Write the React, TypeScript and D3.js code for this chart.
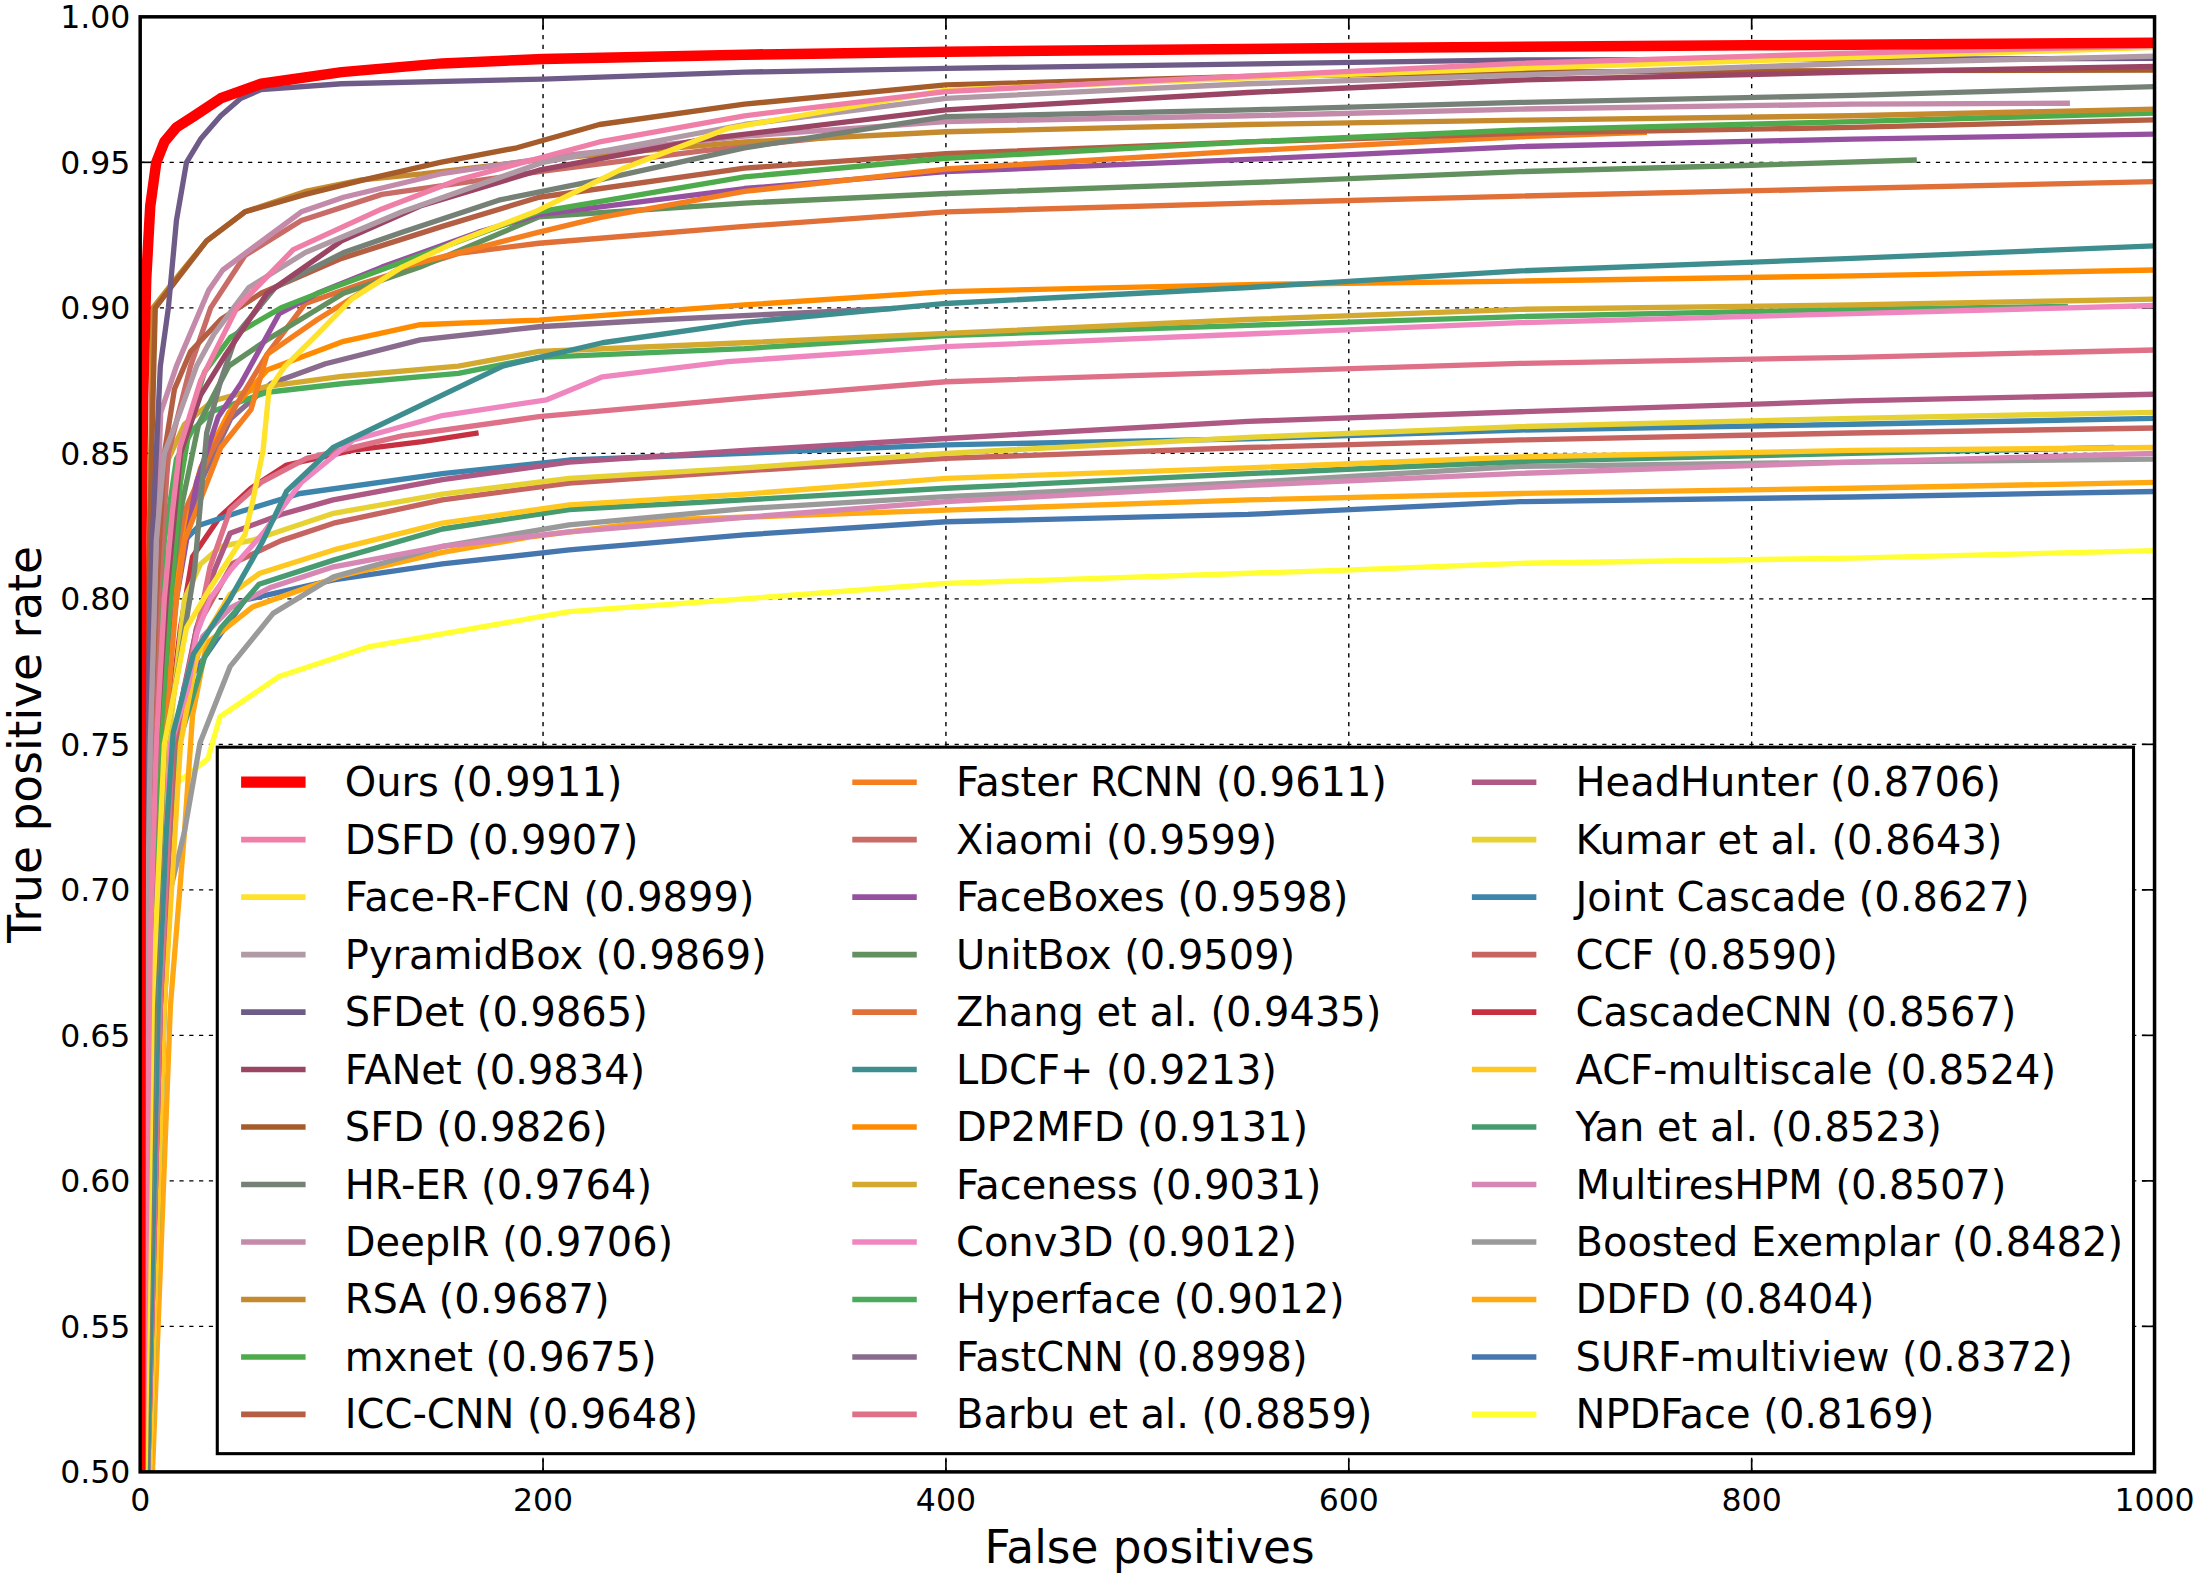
import * as d3 from "d3";

type Pt = [number, number];

// [false positives, true positive rate]
const ours: Pt[] = [[0, 0.48], [0.3, 0.75], [0.6, 0.82], [1.5, 0.87], [3, 0.91], [5, 0.935], [8, 0.95], [12, 0.957], [18, 0.962], [27, 0.966], [40, 0.972], [60, 0.977], [100, 0.981], [150, 0.984], [200, 0.9855], [300, 0.987], [400, 0.988], [600, 0.9893], [800, 0.9902], [1000, 0.9911]];
const dsfd: Pt[] = [[1, 0.48], [5, 0.68], [8, 0.75], [12, 0.8], [16, 0.83], [19.7, 0.852], [30, 0.875], [48, 0.9], [76, 0.92], [120, 0.934], [158, 0.944], [228, 0.957], [300, 0.966], [400, 0.9743], [500, 0.978], [685, 0.984], [850, 0.9875], [1000, 0.99]];
const faceRFcn: Pt[] = [[2, 0.48], [6, 0.66], [12, 0.75], [23, 0.79], [35, 0.804], [52, 0.822], [56, 0.834], [61, 0.851], [64, 0.872], [72, 0.88], [88, 0.891], [105, 0.903], [130, 0.914], [158, 0.923], [196, 0.933], [240, 0.948], [292, 0.9617], [400, 0.9748], [550, 0.979], [685, 0.9823], [850, 0.986], [1000, 0.9895]];
const pyramidBox: Pt[] = [[1, 0.48], [3, 0.66], [5, 0.75], [8, 0.82], [12, 0.85], [19.7, 0.864], [28, 0.88], [36.7, 0.891], [54, 0.907], [82, 0.919], [130, 0.933], [200, 0.95], [300, 0.963], [400, 0.972], [550, 0.977], [685, 0.98], [850, 0.984], [1000, 0.9865]];
const sfdet: Pt[] = [[1, 0.48], [3, 0.75], [6, 0.82], [8, 0.85], [10, 0.88], [14, 0.9], [18, 0.93], [23, 0.95], [30, 0.958], [40, 0.966], [50, 0.972], [60, 0.975], [100, 0.977], [200, 0.9786], [300, 0.981], [400, 0.9823], [685, 0.9852], [1000, 0.9857]];
const fanet: Pt[] = [[1, 0.48], [4, 0.66], [8, 0.75], [13, 0.8], [20, 0.85], [30, 0.87], [42.5, 0.884], [63, 0.905], [100, 0.923], [139, 0.935], [198, 0.9473], [280, 0.958], [400, 0.968], [550, 0.974], [685, 0.9783], [850, 0.981], [1000, 0.983]];
const sfd: Pt[] = [[0.5, 0.48], [1.5, 0.66], [3, 0.75], [4, 0.8], [6.3, 0.867], [7.5, 0.9], [19.6, 0.911], [33, 0.923], [52, 0.933], [82, 0.939], [111, 0.944], [149, 0.95], [187, 0.955], [228, 0.963], [300, 0.97], [400, 0.9766], [550, 0.9795], [685, 0.981], [850, 0.9815], [1000, 0.9817]];
const hrEr: Pt[] = [[2, 0.48], [7, 0.66], [12, 0.75], [20, 0.78], [27, 0.81], [33, 0.857], [40, 0.875], [48, 0.891], [67, 0.907], [101, 0.919], [130, 0.926], [178, 0.937], [228, 0.944], [300, 0.955], [400, 0.9657], [550, 0.968], [685, 0.9706], [850, 0.973], [1000, 0.976]];
const deepIr: Pt[] = [[1, 0.48], [3, 0.66], [5, 0.75], [7, 0.8], [10.2, 0.864], [18, 0.88], [34, 0.906], [41, 0.913], [80, 0.933], [101, 0.938], [149, 0.946], [206, 0.952], [300, 0.959], [400, 0.964], [550, 0.966], [685, 0.9683], [850, 0.97], [958, 0.9703]];
const rsa: Pt[] = [[0.5, 0.48], [1.5, 0.66], [3, 0.75], [4, 0.8], [5.5, 0.86], [6.3, 0.9], [20, 0.912], [33, 0.923], [52, 0.933], [82, 0.94], [110, 0.944], [140, 0.946], [200, 0.951], [300, 0.957], [400, 0.9605], [550, 0.963], [685, 0.9645], [850, 0.966], [1000, 0.9683]];
const mxnet: Pt[] = [[2, 0.48], [6, 0.66], [10, 0.75], [15, 0.8], [20, 0.84], [26, 0.865], [32, 0.878], [45, 0.89], [70, 0.9], [92, 0.906], [139, 0.918], [198, 0.933], [300, 0.945], [400, 0.9514], [550, 0.957], [685, 0.9611], [850, 0.964], [1000, 0.9669]];
const iccCnn: Pt[] = [[1, 0.48], [3, 0.66], [5, 0.75], [8, 0.8], [12, 0.85], [17, 0.872], [25, 0.885], [40, 0.896], [60, 0.905], [100, 0.917], [150, 0.928], [198, 0.938], [300, 0.948], [400, 0.953], [550, 0.957], [685, 0.96], [850, 0.962], [1000, 0.9646]];
const fasterRcnn: Pt[] = [[2, 0.48], [7, 0.66], [12, 0.75], [18, 0.8], [22, 0.82], [40, 0.852], [55, 0.865], [63, 0.884], [88, 0.896], [130, 0.914], [198, 0.926], [228, 0.931], [300, 0.94], [400, 0.9477], [550, 0.954], [685, 0.9588], [748, 0.9603]];
const xiaomi: Pt[] = [[1, 0.48], [3.5, 0.66], [6, 0.75], [9, 0.8], [14, 0.85], [25, 0.88], [35, 0.9], [52, 0.918], [80, 0.93], [120, 0.939], [200, 0.947], [280, 0.954], [352, 0.9594]];
const faceBoxes: Pt[] = [[2, 0.48], [6, 0.66], [10, 0.75], [18, 0.8], [28, 0.84], [38.7, 0.8625], [50, 0.874], [69, 0.898], [88, 0.905], [120, 0.914], [168, 0.926], [198, 0.932], [300, 0.941], [400, 0.9468], [550, 0.951], [685, 0.9554], [850, 0.958], [1000, 0.9597]];
const unitBox: Pt[] = [[2, 0.48], [5, 0.66], [9, 0.75], [15, 0.8], [20, 0.83], [29, 0.86], [44, 0.88], [63, 0.889], [101, 0.905], [139, 0.914], [198, 0.9313], [300, 0.936], [400, 0.9393], [550, 0.943], [685, 0.9468], [800, 0.949], [882, 0.9508]];
const zhang: Pt[] = [[1, 0.48], [4, 0.66], [8, 0.75], [14, 0.8], [22, 0.83], [35, 0.85], [48, 0.867], [63, 0.884], [82, 0.9015], [111, 0.9085], [158, 0.9187], [198, 0.9222], [300, 0.928], [400, 0.933], [550, 0.936], [685, 0.9384], [850, 0.941], [1000, 0.9434]];
const ldcf: Pt[] = [[3, 0.48], [9, 0.66], [13, 0.72], [16.4, 0.754], [26.4, 0.781], [44.6, 0.8], [61, 0.82], [72.7, 0.837], [95.8, 0.852], [144, 0.868], [180, 0.88], [229.5, 0.888], [300, 0.895], [400, 0.9015], [550, 0.907], [685, 0.9127], [850, 0.917], [1000, 0.9213]];
const dp2mfd: Pt[] = [[1, 0.48], [4, 0.66], [8, 0.75], [14, 0.79], [20, 0.82], [30, 0.845], [44, 0.864], [63, 0.8786], [101, 0.8885], [139, 0.8942], [198, 0.8958], [300, 0.901], [400, 0.9056], [550, 0.908], [685, 0.9092], [850, 0.911], [1000, 0.913]];
const faceness: Pt[] = [[0.5, 0.48], [2, 0.66], [4, 0.75], [8, 0.82], [14, 0.848], [22, 0.86], [36, 0.868], [63, 0.873], [101, 0.8765], [158, 0.88], [198, 0.885], [300, 0.888], [400, 0.8912], [550, 0.896], [685, 0.8995], [850, 0.901], [1000, 0.903]];
const conv3d: Pt[] = [[3, 0.48], [9, 0.66], [15, 0.75], [24, 0.77], [28, 0.788], [34.7, 0.8], [45, 0.81], [61, 0.8225], [80, 0.84], [105.8, 0.8546], [150, 0.863], [201.8, 0.8684], [229.5, 0.8763], [291.6, 0.8815], [400, 0.8867], [550, 0.891], [685, 0.8949], [850, 0.898], [1000, 0.9008]];
const hyperface: Pt[] = [[1, 0.48], [4, 0.66], [7, 0.75], [12, 0.82], [18, 0.848], [26, 0.858], [36, 0.8645], [63, 0.871], [101, 0.874], [158, 0.8775], [198, 0.883], [300, 0.886], [400, 0.8905], [550, 0.894], [685, 0.897], [850, 0.8995], [957, 0.9005]];
const fastCnn: Pt[] = [[2, 0.48], [6, 0.66], [10, 0.75], [18, 0.81], [30, 0.84], [45, 0.862], [65, 0.874], [92, 0.8808], [139, 0.889], [198, 0.8935], [260, 0.896], [320, 0.898], [375, 0.8998]];
const barbu: Pt[] = [[3, 0.48], [10, 0.66], [16, 0.75], [28, 0.788], [34.7, 0.811], [44.6, 0.8305], [60, 0.84], [82.6, 0.8483], [130, 0.856], [198, 0.8626], [300, 0.869], [400, 0.8746], [550, 0.878], [685, 0.8809], [850, 0.883], [1000, 0.8855]];
const headHunter: Pt[] = [[3, 0.48], [10, 0.66], [16, 0.75], [28, 0.79], [37, 0.81], [44.6, 0.8225], [70, 0.829], [95.8, 0.834], [150, 0.841], [213, 0.847], [300, 0.851], [400, 0.8551], [550, 0.861], [685, 0.8643], [850, 0.868], [1000, 0.8703]];
const kumar: Pt[] = [[3, 0.48], [9, 0.66], [14, 0.75], [22, 0.8], [30, 0.812], [40, 0.818], [56, 0.8202], [96, 0.8294], [150, 0.836], [213, 0.8414], [300, 0.845], [400, 0.85], [550, 0.8555], [685, 0.8592], [850, 0.862], [1000, 0.8641]];
const jointCascade: Pt[] = [[2, 0.48], [6, 0.66], [10, 0.75], [16, 0.8], [22, 0.82], [29.7, 0.8254], [50, 0.83], [79.3, 0.8362], [150, 0.843], [213, 0.8477], [300, 0.85], [400, 0.8529], [550, 0.855], [685, 0.858], [850, 0.86], [1000, 0.862]];
const ccf: Pt[] = [[3, 0.48], [10, 0.66], [17, 0.75], [28, 0.79], [36, 0.8], [46, 0.8122], [70, 0.82], [96, 0.826], [150, 0.834], [213, 0.8398], [300, 0.844], [400, 0.8483], [550, 0.852], [685, 0.8546], [850, 0.857], [1000, 0.8587]];
const cascadeCnn: Pt[] = [[2, 0.48], [8, 0.66], [13, 0.75], [20, 0.79], [26, 0.8145], [39.6, 0.8282], [55, 0.838], [72.7, 0.846], [106, 0.8511], [140, 0.854], [168, 0.857]];
const acf: Pt[] = [[4, 0.48], [12, 0.66], [20, 0.75], [28, 0.78], [34.7, 0.79], [44.6, 0.8015], [59.4, 0.8088], [96, 0.8168], [150, 0.826], [213, 0.8323], [300, 0.836], [400, 0.8414], [550, 0.845], [685, 0.8488], [850, 0.851], [1000, 0.852]];
const yan: Pt[] = [[4, 0.48], [12, 0.66], [19, 0.75], [32, 0.78], [40, 0.79], [59, 0.805], [96, 0.8133], [150, 0.824], [213, 0.8307], [300, 0.834], [400, 0.838], [550, 0.843], [685, 0.8472], [850, 0.85], [980, 0.852]];
const multiresHpm: Pt[] = [[3, 0.48], [11, 0.66], [17, 0.75], [31, 0.787], [45, 0.797], [65, 0.804], [96, 0.811], [150, 0.818], [213, 0.823], [300, 0.828], [400, 0.8334], [550, 0.839], [685, 0.8431], [850, 0.847], [1000, 0.85]];
const boosted: Pt[] = [[4, 0.48], [7, 0.62], [15, 0.7], [22, 0.72], [29.7, 0.7505], [44.6, 0.7767], [66, 0.795], [96, 0.8076], [150, 0.818], [213, 0.8254], [300, 0.831], [400, 0.8351], [550, 0.84], [685, 0.8455], [850, 0.847], [1000, 0.848]];
const ddfd: Pt[] = [[5, 0.48], [15, 0.66], [22, 0.72], [26, 0.76], [33, 0.7847], [56, 0.7973], [100, 0.808], [150, 0.816], [193.7, 0.8213], [260, 0.8271], [400, 0.8305], [550, 0.834], [685, 0.8362], [850, 0.838], [1000, 0.84]];
const surf: Pt[] = [[3, 0.48], [9, 0.66], [15, 0.74], [22, 0.77], [40, 0.788], [52, 0.7996], [96, 0.8065], [150, 0.812], [213, 0.8168], [300, 0.822], [400, 0.8265], [550, 0.829], [685, 0.8334], [850, 0.835], [1000, 0.8369]];
const npdFace: Pt[] = [[2, 0.48], [3, 0.69], [7, 0.72], [17, 0.736], [33.6, 0.745], [39.6, 0.7595], [69, 0.7733], [114, 0.7836], [213, 0.7956], [300, 0.8], [400, 0.8053], [598.6, 0.8099], [685, 0.8122], [850, 0.814], [1000, 0.8166]];

const methods = [
  "Ours", "DSFD", "Face-R-FCN", "PyramidBox", "SFDet", "FANet", "SFD", "HR-ER", "DeepIR", "RSA", "mxnet", "ICC-CNN",
  "Faster RCNN", "Xiaomi", "FaceBoxes", "UnitBox", "Zhang et al.", "LDCF+", "DP2MFD", "Faceness", "Conv3D", "Hyperface", "FastCNN", "Barbu et al.",
  "HeadHunter", "Kumar et al.", "Joint Cascade", "CCF", "CascadeCNN", "ACF-multiscale", "Yan et al.", "MultiresHPM", "Boosted Exemplar", "DDFD", "SURF-multiview", "NPDFace",
];
const scores = [
  "0.9911", "0.9907", "0.9899", "0.9869", "0.9865", "0.9834", "0.9826", "0.9764", "0.9706", "0.9687", "0.9675", "0.9648",
  "0.9611", "0.9599", "0.9598", "0.9509", "0.9435", "0.9213", "0.9131", "0.9031", "0.9012", "0.9012", "0.8998", "0.8859",
  "0.8706", "0.8643", "0.8627", "0.8590", "0.8567", "0.8524", "0.8523", "0.8507", "0.8482", "0.8404", "0.8372", "0.8169",
];
const curves: Pt[][] = [
  ours, dsfd, faceRFcn, pyramidBox, sfdet, fanet, sfd, hrEr, deepIr, rsa, mxnet, iccCnn,
  fasterRcnn, xiaomi, faceBoxes, unitBox, zhang, ldcf, dp2mfd, faceness, conv3d, hyperface, fastCnn, barbu,
  headHunter, kumar, jointCascade, ccf, cascadeCnn, acf, yan, multiresHpm, boosted, ddfd, surf, npdFace,
];
const colors = [
  "#ff0000", "#f07fa8", "#ffe32a", "#b09aa6", "#6f5b88", "#9a4563", "#a65b2b", "#758176", "#c48aaa", "#c48a2d", "#4eab4b", "#b45f43",
  "#f57f1f", "#c96b66", "#9551a0", "#62915f", "#e06f38", "#3f8e8f", "#ff8c00", "#d3aa2f", "#f086bf", "#4aab5b", "#896b8e", "#de7088",
  "#ae5884", "#e7d234", "#3e85ad", "#c66461", "#c63040", "#ffc820", "#479b70", "#d787b4", "#9a9a9a", "#ffa811", "#4576ad", "#ffff33",
];

const xTicks = [0, 200, 400, 600, 800, 1000];
const yTicks = [0.5, 0.55, 0.6, 0.65, 0.7, 0.75, 0.8, 0.85, 0.9, 0.95, 1.0];

const W = 1568;
const H = 1123.56;
const FONT = "'DejaVu Sans', sans-serif";

export default function App() {
  const x = d3.scaleLinear().domain([0, 1000]).range([100, 1537]);
  const y = d3.scaleLinear().domain([0.5, 1]).range([1050, 12]);
  const mkLine = d3
    .line<Pt>()
    .x((d) => x(d[0]))
    .y((d) => y(d[1]));

  const order = curves.map((_, i) => i).reverse();

  return (
    <div>
      <style>{`body{margin:0}`}</style>
      <svg width={2198} height={1575} viewBox={`0 0 ${W} ${H}`} style={{ display: "block", background: "#fff" }}>
        <defs>
          <clipPath id="plot">
            <rect x={x(0)} y={y(1)} width={x(1000) - x(0)} height={y(0.5) - y(1)} />
          </clipPath>
        </defs>

        {/* grid */}
        {xTicks.map((t) => (
          <line key={`gx${t}`} x1={x(t)} x2={x(t)} y1={y(0.5)} y2={y(1)} stroke="#000" strokeWidth={1} strokeDasharray="3 4" />
        ))}
        {yTicks.map((t) => (
          <line key={`gy${t}`} x1={x(0)} x2={x(1000)} y1={y(t)} y2={y(t)} stroke="#000" strokeWidth={1} strokeDasharray="3 4" />
        ))}

        {/* ticks, inside on all four sides */}
        {xTicks.map((t) => (
          <g key={`tx${t}`}>
            <line x1={x(t)} x2={x(t)} y1={y(0.5)} y2={y(0.5) - 9} stroke="#000" strokeWidth={1.2} />
            <line x1={x(t)} x2={x(t)} y1={y(1)} y2={y(1) + 9} stroke="#000" strokeWidth={1.2} />
          </g>
        ))}
        {yTicks.map((t) => (
          <g key={`ty${t}`}>
            <line x1={x(0)} x2={x(0) + 9} y1={y(t)} y2={y(t)} stroke="#000" strokeWidth={1.2} />
            <line x1={x(1000)} x2={x(1000) - 9} y1={y(t)} y2={y(t)} stroke="#000" strokeWidth={1.2} />
          </g>
        ))}

        <g clipPath="url(#plot)">
          {order.map((i) => (
            <path
              key={methods[i]}
              d={mkLine(curves[i]) ?? ""}
              fill="none"
              stroke={colors[i]}
              strokeWidth={i === 0 ? 7.5 : 3.8}
              strokeLinejoin="round"
            />
          ))}
        </g>

        <rect x={x(0)} y={y(1)} width={x(1000) - x(0)} height={y(0.5) - y(1)} fill="none" stroke="#000" strokeWidth={2.5} />

        {/* tick labels */}
        {xTicks.map((t) => (
          <text key={`lx${t}`} x={x(t)} y={1078} textAnchor="middle" fontFamily={FONT} fontSize={22.5} fill="#000">
            {t}
          </text>
        ))}
        {yTicks.map((t) => (
          <text key={`ly${t}`} x={93} y={y(t) + 8} textAnchor="end" fontFamily={FONT} fontSize={22.5} fill="#000">
            {t.toFixed(2)}
          </text>
        ))}

        <text x={820} y={1115} textAnchor="middle" fontFamily={FONT} fontSize={32.4} fill="#000">
          False positives
        </text>
        <text transform="translate(29,531) rotate(-90)" textAnchor="middle" fontFamily={FONT} fontSize={32.5} fill="#000">
          True positive rate
        </text>

        {/* legend */}
        <rect x={155} y={533} width={1367} height={504} fill="#fff" stroke="#000" strokeWidth={2.2} />
        {methods.map((m, i) => {
          const col = Math.floor(i / 12);
          const row = i % 12;
          const off = [0, 436, 878][col];
          const cy = 558 + row * 41;
          return (
            <g key={`lg${m}`}>
              <line
                x1={172 + off}
                x2={218 + off}
                y1={cy}
                y2={cy}
                stroke={colors[i]}
                strokeWidth={i === 0 ? 8 : 4}
              />
              <text x={246 + off} y={cy + 10} fontFamily={FONT} fontSize={28.5} fill="#000">
                {`${m} (${scores[i]})`}
              </text>
            </g>
          );
        })}
      </svg>
    </div>
  );
}
